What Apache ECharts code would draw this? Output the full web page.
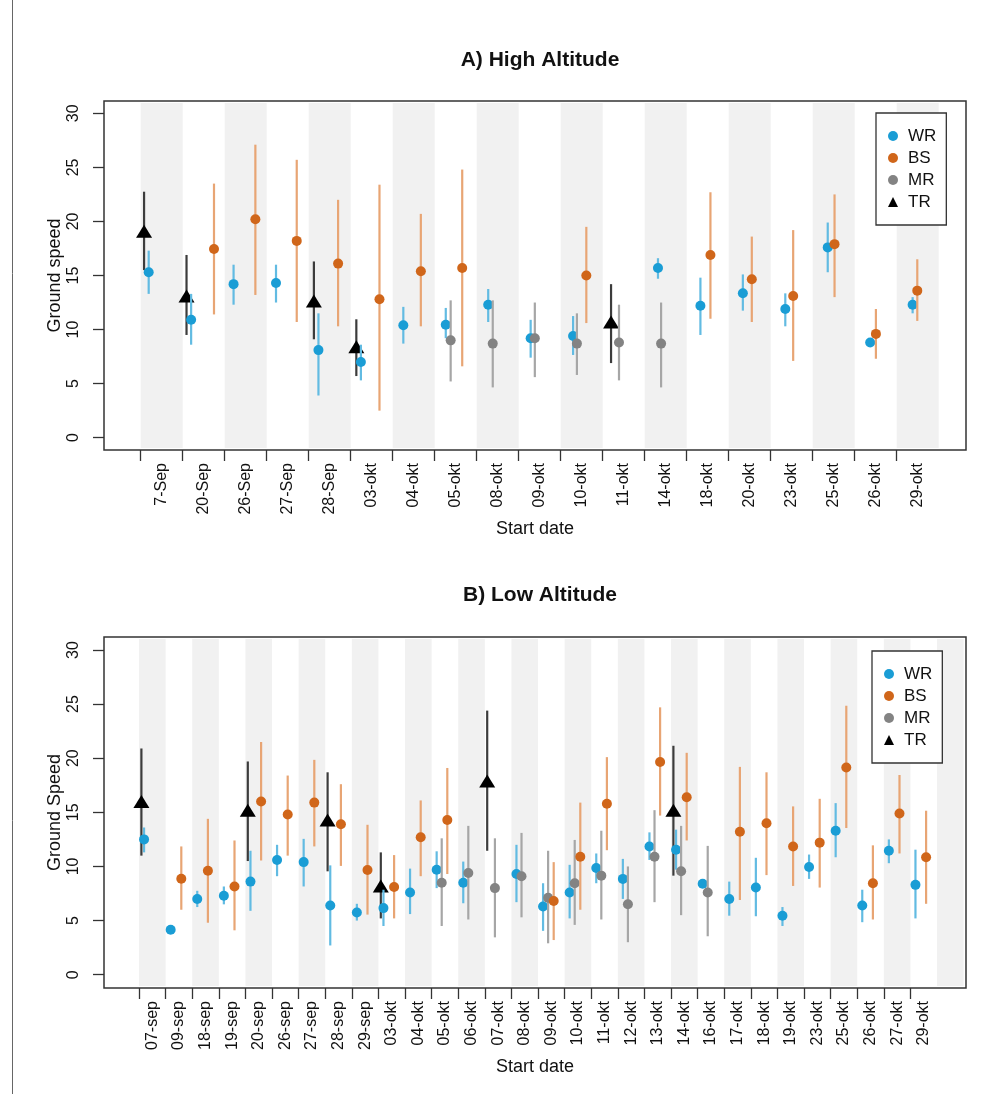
<!DOCTYPE html>
<html>
<head>
<meta charset="utf-8">
<script src="https://cdn.jsdelivr.net/npm/echarts@6/dist/echarts.min.js"></script>
<style>
html,body{margin:0;padding:0;background:#fff;}
#chart{width:1002px;height:1094px;}
</style>
</head>
<body>
<div id="chart"></div>
<script>
// ---------------- DATA ----------------
// Panel A: High Altitude
const hiCats = ['7-Sep','20-Sep','26-Sep','27-Sep','28-Sep','03-okt','04-okt','05-okt','08-okt','09-okt','10-okt','11-okt','14-okt','18-okt','20-okt','23-okt','25-okt','26-okt','29-okt'];
// each entry: [mean, lower, upper] or null
const hiWR = [[15.3,13.3,17.3],[10.9,8.6,13.3],[14.2,12.3,16.0],[14.3,12.5,16.0],[8.1,3.9,11.5],[7.0,5.3,8.6],[10.4,8.7,12.1],[10.45,9.2,12.0],[12.3,10.7,13.75],[9.2,7.4,10.9],[9.4,7.65,11.25],null,[15.7,14.7,16.6],[12.2,9.5,14.8],[13.35,11.75,15.1],[11.9,10.3,13.35],[17.6,15.3,19.9],[8.8,8.8,8.8],[12.3,11.5,13.0]];
const hiBS = [null,[17.45,11.4,23.5],[20.2,13.2,27.1],[18.2,10.7,25.7],[16.1,10.3,22.0],[12.8,2.5,23.4],[15.4,10.3,20.7],[15.7,6.6,24.8],null,null,[15.0,10.6,19.5],null,null,[16.9,11.0,22.7],[14.65,10.7,18.6],[13.1,7.1,19.2],[17.9,13.0,22.5],[9.6,7.3,11.9],[13.6,10.8,16.5]];
const hiMR = [null,null,null,null,null,null,null,[9.0,5.2,12.7],[8.7,4.65,12.7],[9.2,5.6,12.5],[8.7,5.8,11.5],[8.8,5.3,12.3],[8.7,4.65,12.5],null,null,null,null,null,null];
const hiTR = [[19.1,15.5,22.75],[13.1,9.5,16.9],null,null,[12.65,9.1,16.3],[8.4,5.7,10.95],null,null,null,null,null,[10.7,6.9,14.2],null,null,null,null,null,null,null];

// Panel B: Low Altitude
const loCats = ['07-sep','09-sep','18-sep','19-sep','20-sep','26-sep','27-sep','28-sep','29-sep','03-okt','04-okt','05-okt','06-okt','07-okt','08-okt','09-okt','10-okt','11-okt','12-okt','13-okt','14-okt','16-okt','17-okt','18-okt','19-okt','23-okt','25-okt','26-okt','27-okt','29-okt'];
const loWR = [[12.5,11.3,13.6],[4.15,4.15,4.15],[7.0,6.25,7.75],[7.3,6.5,8.15],[8.6,5.9,11.45],[10.6,9.1,12.0],[10.4,8.15,12.55],[6.4,2.7,10.1],[5.75,5.0,6.55],[6.15,4.5,7.85],[7.6,5.6,9.8],[9.7,8.0,11.4],[8.5,6.6,10.45],null,[9.3,6.7,12.0],[6.3,4.05,8.45],[7.6,5.2,10.15],[9.85,8.45,11.2],[8.85,7.0,10.7],[11.85,10.6,13.15],[11.55,9.7,13.4],[8.4,8.4,8.4],[7.0,5.45,8.6],[8.05,5.4,10.8],[5.45,4.5,6.25],[9.95,8.85,11.1],[13.3,10.85,15.85],[6.4,4.85,7.85],[11.45,10.3,12.5],[8.3,5.2,11.55]];
const loBS = [null,[8.86,6.0,11.85],[9.6,4.8,14.4],[8.15,4.1,12.4],[16.0,10.55,21.5],[14.8,11.0,18.4],[15.9,11.85,19.85],[13.9,10.05,17.6],[9.67,5.55,13.85],[8.1,5.2,11.05],[12.7,9.1,16.1],[14.3,9.3,19.1],null,null,null,[6.8,3.2,10.4],[10.9,6.0,15.9],[15.8,11.5,20.1],null,[19.65,14.7,24.7],[16.4,12.4,20.5],null,[13.2,6.9,19.2],[14.0,9.2,18.7],[11.85,8.2,15.55],[12.2,8.05,16.25],[19.15,13.55,24.85],[8.45,5.1,11.95],[14.9,11.2,18.45],[10.85,6.55,15.15]];
const loMR = [null,null,null,null,null,null,null,null,null,null,null,[8.5,4.5,12.6],[9.4,5.1,13.75],[8.0,3.45,12.6],[9.1,5.3,13.1],[7.1,2.9,11.45],[8.45,4.6,12.45],[9.15,5.1,13.3],[6.5,3.0,10.0],[10.9,6.7,15.2],[9.55,5.5,13.75],[7.6,3.55,11.9],null,null,null,null,null,null,null,null];
const loTR = [[16.0,11.0,20.9],null,null,null,[15.2,10.5,19.7],null,null,[14.3,9.55,18.7],null,[8.2,5.2,11.3],null,null,null,[17.9,11.45,24.4],null,null,null,null,null,null,[15.2,9.15,21.15],null,null,null,null,null,null,null,null,null];

const yTicks = [0,5,10,15,20,25,30];
const groupNames = ['WR','BS','MR','TR'];

// ---------------- STYLE ----------------
const FONT = "'Liberation Sans', Arial, sans-serif";
const PT = {WR:'#1a9dd5', BS:'#d0661a', MR:'#838383', TR:'#000000'};
const BAR = {WR:'#62bbe2', BS:'#e8a574', MR:'#a6a6a6', TR:'#3c3c3c'};
// dodge within a band: [base, drift per category]
const dodgeHi = {WR:[0.19,0.0105], BS:[0.76,-0.015], MR:[0.366,0.002], TR:[0.08,0.0108]};
const dodgeLo = {WR:[0.19,0], BS:[0.59,0], MR:[0.38,0], TR:[0.09,0]};
const drawOrder = ['TR','WR','MR','BS'];

function range(n){ return Array.from({length:n},(_,i)=>i); }

const xAxes = [], yAxes = [], series = [];

function buildPanel(gi, cats, groups, dodge, xmin, xmax, ymin, ymax, yName){
  const n = cats.length;
  xAxes.push({
    type:'value', gridIndex:gi, min:xmin, max:xmax, position:'bottom',
    name:'Start date', nameLocation:'middle', nameGap:70,
    nameTextStyle:{fontFamily:FONT, fontSize:18, color:'#111'},
    axisLine:{show:false, onZero:false}, splitLine:{show:false},
    axisTick:{show:true, customValues:range(n), length:11, lineStyle:{color:'#333', width:1.3}},
    axisLabel:{show:true, customValues:range(n).map(i=>i+0.5), rotate:90, margin:13,
      fontFamily:FONT, fontSize:16, color:'#111',
      formatter:(v)=>cats[Math.floor(v)]}
  });
  yAxes.push({
    type:'value', gridIndex:gi, min:ymin, max:ymax, position:'left',
    name:yName, nameLocation:'middle', nameGap:40, nameRotate:90, nameMoveOverlap:false,
    nameTextStyle:{fontFamily:FONT, fontSize:18, color:'#111'},
    axisLine:{show:false, onZero:false}, splitLine:{show:false},
    axisTick:{show:true, customValues:yTicks, length:11, lineStyle:{color:'#333', width:1.3}},
    axisLabel:{show:true, customValues:yTicks, rotate:90, margin:22,
      fontFamily:FONT, fontSize:16, color:'#111'}
  });
  // alternating bands
  series.push({
    type:'custom', xAxisIndex:gi, yAxisIndex:gi, silent:true, z:0,
    data: range(n+1).filter(k=>k%2===0).map(k=>[k]),
    encode:{x:0},
    renderItem:(params, api)=>{
      const cs = params.coordSys;
      const k = api.value(0);
      const a = api.coord([k, 0]);
      const b = api.coord([k+1, 0]);
      return {type:'rect', shape:{x:a[0], y:cs.y+2, width:b[0]-a[0], height:cs.height-4},
        style:{fill:'#f1f1f1'}};
    }
  });
  drawOrder.forEach((g, gIdx)=>{
    const arr = groups[g];
    const d = dodge[g];
    const bars = [], pts = [];
    arr.forEach((v,k)=>{
      if(!v) return;
      const x = k + d[0] + d[1]*k;
      if(v[2] > v[1]) bars.push([x, v[1], v[2]]);
      pts.push([x, v[0]]);
    });
    series.push({
      type:'custom', xAxisIndex:gi, yAxisIndex:gi, silent:true, z:2+gIdx*2,
      data:bars, encode:{x:0, y:[1,2]},
      renderItem:(params, api)=>{
        const p1 = api.coord([api.value(0), api.value(1)]);
        const p2 = api.coord([api.value(0), api.value(2)]);
        return {type:'line', shape:{x1:p1[0], y1:p1[1], x2:p2[0], y2:p2[1]},
          style:{stroke:BAR[g], lineWidth:2.2}};
      }
    });
    series.push({
      type:'scatter', name:g, xAxisIndex:gi, yAxisIndex:gi, z:3+gIdx*2,
      data:pts,
      symbol: g==='TR' ? 'triangle' : 'circle',
      symbolSize: g==='TR' ? [16,13] : 10,
      itemStyle:{color:PT[g], opacity:1},
      emphasis:{disabled:true}
    });
  });
}

buildPanel(0, hiCats, {WR:hiWR, BS:hiBS, MR:hiMR, TR:hiTR}, dodgeHi, -0.874, 19.65, -1.14, 31.14, 'Ground speed');
buildPanel(1, loCats, {WR:loWR, BS:loBS, MR:loMR, TR:loTR}, dodgeLo, -1.316, 31.09, -1.23, 31.2, 'Ground Speed');

function legendAt(left, top){
  return {
    left:left, top:top, orient:'vertical',
    data: groupNames.map(nm=>({name:nm, icon: nm==='TR' ? 'triangle' : 'circle'})),
    itemWidth:10, itemHeight:10, itemGap:4,
    padding:[14,10,14,12],
    borderColor:'#333', borderWidth:1.3, backgroundColor:'#fff',
    selectedMode:false,
    textStyle:{fontFamily:FONT, fontSize:17, color:'#111', lineHeight:18, padding:[0,0,0,5]}
  };
}

const option = {
  animation:false,
  backgroundColor:'#fff',
  title:[
    {text:'A) High Altitude', left:535, top:45, textAlign:'center',
      textStyle:{fontFamily:FONT, fontSize:21, fontWeight:'bold', color:'#111'}},
    {text:'B) Low Altitude', left:535, top:580, textAlign:'center',
      textStyle:{fontFamily:FONT, fontSize:21, fontWeight:'bold', color:'#111'}}
  ],
  grid:[
    {left:104, top:101, width:862, height:349, show:true, borderColor:'#333', borderWidth:1.5, backgroundColor:'#fff'},
    {left:104, top:637, width:862, height:351, show:true, borderColor:'#333', borderWidth:1.5, backgroundColor:'#fff'}
  ],
  xAxis:xAxes,
  yAxis:yAxes,
  legend:[legendAt(876,113), legendAt(872,651)],
  graphic:[{type:'line', shape:{x1:12.5, y1:0, x2:12.5, y2:1094}, style:{stroke:'#666', lineWidth:1}, silent:true}],
  series:series
};

const chart = echarts.init(document.getElementById('chart'), null, {renderer:'canvas'});
chart.setOption(option);
</script>
</body>
</html>
